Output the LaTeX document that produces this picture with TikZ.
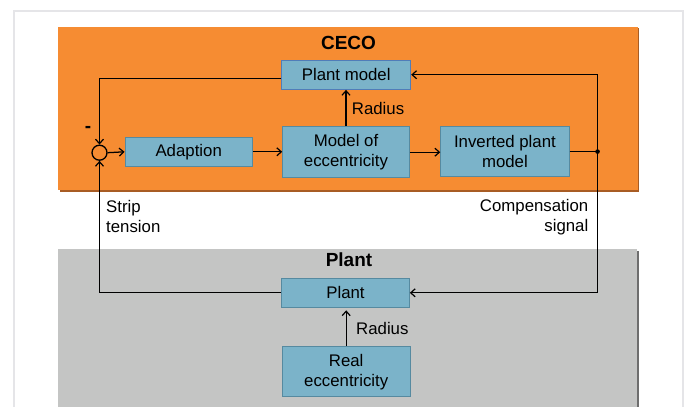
\documentclass[tikz,border=0pt]{standalone}
\usepackage{fontspec}
\setmainfont{Liberation Sans}
\usetikzlibrary{arrows.meta,calc}
\definecolor{ceco}{RGB}{246,140,50}
\definecolor{cecoedge}{RGB}{168,92,36}
\definecolor{plantbg}{RGB}{196,197,196}
\definecolor{plantedge}{RGB}{110,110,110}
\definecolor{blk}{RGB}{123,179,201}
\definecolor{blkedge}{RGB}{86,138,160}
\definecolor{pmedge}{RGB}{80,125,185}
\definecolor{framegray}{RGB}{229,229,232}
\begin{document}
\begin{tikzpicture}[x=1pt,y=-1pt,
  blockbox/.style={draw=blkedge,fill=blk,line width=1pt,inner sep=0pt,align=center,
    font=\fontsize{16.8}{20}\selectfont},
  lbl/.style={font=\fontsize{16.8}{20}\selectfont,inner sep=0pt},
  ttl/.style={font=\fontsize{19}{22}\selectfont\bfseries,inner sep=0pt},
  wire/.style={draw=black,line width=1.25pt},
  arr/.style={wire,-{Straight Barb[length=4.5pt,width=8pt,line width=1.2pt]}}]
\clip (0,0) rectangle (689,407);
\fill[white] (0,0) rectangle (689,407);
\draw[framegray,line width=2.2pt] (14,420) -- (14,11) -- (683,11) -- (683,420);
% containers
\fill[cecoedge] (59.8,28.2) rectangle (639.4,191.6);
\fill[ceco] (58.3,26.7) rectangle (637.7,190);
\fill[plantedge] (59.8,250.8) rectangle (638.8,420);
\fill[plantbg] (58.3,249.3) rectangle (637,420);
% titles
\node[ttl] (cecot) at (348.5,42.7) {CECO};
\node[ttl] (plantt) at (349,260) {Plant};
% blocks
\node[blockbox,draw=pmedge,minimum width=129pt,minimum height=29.3pt] (pm) at (346.2,74.7) {Plant model};
\node[blockbox,minimum width=127.3pt,minimum height=28.4pt] (adapt) at (188.7,151.8) {Adaption};
\node[blockbox,minimum width=126.6pt,minimum height=51pt] (moe) at (346,152.2) {Model of\\eccentricity};
\node[blockbox,minimum width=128.3pt,minimum height=49.3pt] (inv) at (504.9,151.6) {Inverted plant\\model};
\node[blockbox,minimum width=127.6pt,minimum height=29pt] (plant) at (345.5,292.8) {Plant};
\node[blockbox,minimum width=127.7pt,minimum height=50pt] (real) at (346.2,371.7) {Real\\eccentricity};
% summing junction
\node[circle,draw,line width=1.3pt,minimum size=15pt,inner sep=0pt] (sum) at (99.5,152.7) {};
\node[ttl] (minus) at (88,129.5) {-};
% junction dot
\path (inv.east) ++(28pt,0pt) coordinate (dot);
\fill (dot) circle (2.3pt);
% connectors
\draw[arr] ([yshift=-3.8pt]pm.west) -| (sum.north);
\draw[arr] (plant.west) -| (sum.south);
\draw[arr] (sum.east) -- (adapt.west);
\draw[arr] (adapt.east) -- (adapt.east -| moe.west);
\draw[arr] (moe.east) -- (moe.east -| inv.west);
\draw[arr] (moe.north) -- (moe.north |- pm.south);
\draw[wire] (inv.east) -- (dot);
\draw[arr] (dot) |- (pm.east);
\draw[arr] (dot) |- (plant.east);
\draw[arr,shorten >=2.5pt] (real.north) -- (real.north |- plant.south);
% labels
\node[lbl,anchor=west] (rad1) at (351.7,108.3) {Radius};
\node[lbl,anchor=west] (rad2) at (356,328.3) {Radius};
\node[lbl,anchor=west,align=left] (strip) at (106,216.5) {Strip\\tension};
\node[lbl,anchor=east,align=right] (comp) at (588.5,217) {Compensation\\signal};
\end{tikzpicture}
\end{document}
